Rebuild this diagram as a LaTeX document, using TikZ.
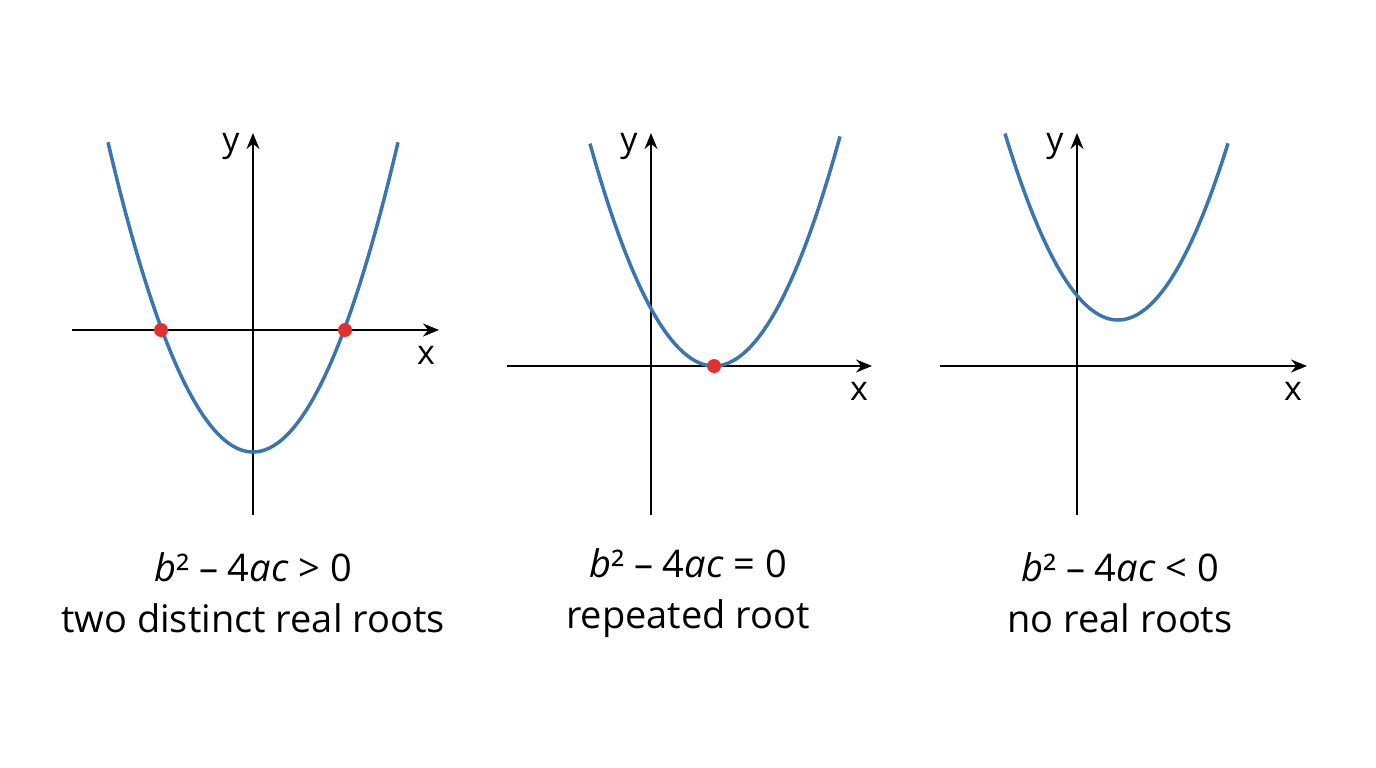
\documentclass[tikz,border=0pt]{standalone}
\usepackage{fontspec}
\setmainfont{Open Sans}
\usetikzlibrary{arrows.meta}
\definecolor{curve}{HTML}{3A75B0}
\definecolor{root}{HTML}{E03030}
\begin{document}
\begin{tikzpicture}[x=1pt,y=-1pt,
  ax/.style={line width=2.2pt,-{Stealth[length=16pt,width=13pt]}},
  cv/.style={curve,line width=3.5pt},
  dot/.style={circle,fill=root,inner sep=0pt,minimum size=14pt},
  lab/.style={font=\fontsize{34}{38}\selectfont,inner sep=0pt},
  captxt/.style={font=\fontsize{38}{51}\selectfont,align=center}]
\useasboundingbox (0,0) rectangle (1376,768);
% panel 1
\coordinate (y1a) at (253,515); \coordinate (y1b) at (253,133);
\coordinate (x1a) at (72,330); \coordinate (x1b) at (439,330);
\draw[ax] (y1a) -- (y1b); \draw[ax] (x1a) -- (x1b);
\draw[cv] plot[domain=108:398,samples=80,smooth] (\x,{452-(0.12137*(\x-253))^2});
\node[dot] (r1) at (161,330) {}; \node[dot] (r2) at (345,330) {};
\node[lab] (ly1) at (231,146) {y}; \node[lab] (lx1) at (426,355) {x};
\node[captxt] (c1) at (253,593) {\textit{b}² – 4\textit{ac} > 0\\two distinct real roots};
% panel 2
\coordinate (y2a) at (651,515); \coordinate (y2b) at (651,133);
\coordinate (x2a) at (507,366); \coordinate (x2b) at (872,366);
\draw[ax] (y2a) -- (y2b); \draw[ax] (x2a) -- (x2b);
\draw[cv] plot[domain=590:840,samples=80,smooth] (\x,{366-(0.12025*(\x-714))^2});
\node[dot] (r3) at (714,366) {};
\node[lab] (ly2) at (629,146) {y}; \node[lab] (lx2) at (859,391) {x};
\node[captxt] (c2) at (688,593) {\textit{b}² – 4\textit{ac} = 0\\repeated root};
% panel 3
\coordinate (y3a) at (1077,515); \coordinate (y3b) at (1077,133);
\coordinate (x3a) at (940,366); \coordinate (x3b) at (1307,366);
\draw[ax] (y3a) -- (y3b); \draw[ax] (x3a) -- (x3b);
\draw[cv] plot[domain=1005:1228,samples=80,smooth] (\x,{320-(0.12083*(\x-1118))^2});
\node[lab] (ly3) at (1055,146) {y}; \node[lab] (lx3) at (1293,391) {x};
\node[captxt] (c3) at (1120,593) {\textit{b}² – 4\textit{ac} < 0\\no real roots};
\end{tikzpicture}
\end{document}
